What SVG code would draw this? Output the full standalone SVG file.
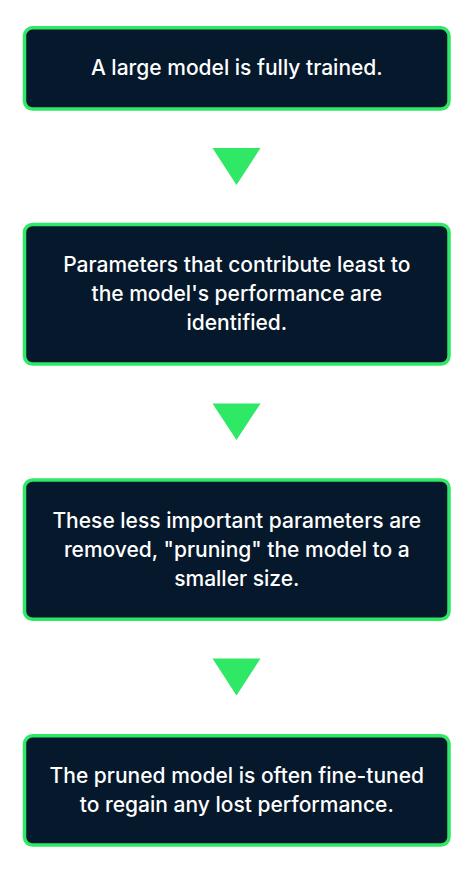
<svg xmlns="http://www.w3.org/2000/svg" width="474" height="870" viewBox="0 0 474 870">
<style>
.box{fill:#06182b;stroke:#2ee866;stroke-width:3.5}
.lbl{font-family:Inter,"Noto Sans",sans-serif;font-size:21px;font-weight:500;fill:#ffffff;text-anchor:middle}
.arr{fill:#2ee866}
</style>
<rect width="474" height="870" fill="#ffffff"/>
<g id="connectors">
<polygon class="arr" points="212.5,148 260.5,148 236.5,185"/>
<polygon class="arr" points="212.5,403.5 260.5,403.5 236.5,440"/>
<polygon class="arr" points="212.5,658.5 260.5,658.5 236.5,695.5"/>
</g>
<g id="node1">
<rect class="box" x="24.5" y="27.8" width="424.5" height="81.2" rx="8"/>
<text class="lbl" x="236.8" y="74.5">A large model is fully trained.</text>
</g>
<g id="node2">
<rect class="box" x="24.5" y="224.5" width="424.5" height="139.5" rx="8"/>
<text class="lbl" x="236.8" y="272">Parameters that contribute least to</text>
<text class="lbl" x="236.8" y="301">the model's performance are</text>
<text class="lbl" x="236.8" y="330">identified.</text>
</g>
<g id="node3">
<rect class="box" x="24.5" y="480" width="424.5" height="139.3" rx="8"/>
<text class="lbl" x="236.8" y="527.5">These less important parameters are</text>
<text class="lbl" x="236.8" y="556.7">removed, "pruning" the model to a</text>
<text class="lbl" x="236.8" y="586">smaller size.</text>
</g>
<g id="node4">
<rect class="box" x="24.5" y="735.8" width="424.5" height="109.2" rx="8"/>
<text class="lbl" x="236.8" y="782.5">The pruned model is often fine-tuned</text>
<text class="lbl" x="236.8" y="812">to regain any lost performance.</text>
</g>
</svg>
